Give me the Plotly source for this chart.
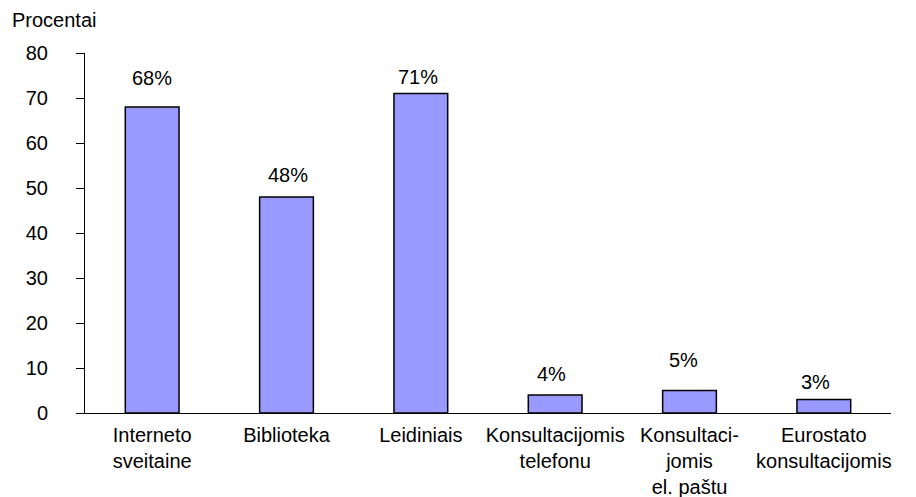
import plotly.graph_objects as go

categories = [
    "Interneto<br>sveitaine",
    "Biblioteka",
    "Leidiniais",
    "Konsultacijomis<br>telefonu",
    "Konsultaci-<br>jomis<br>el. paštu",
    "Eurostato<br>konsultacijomis",
]
values = [68, 48, 71, 4, 5, 3]
value_labels = ["68%", "48%", "71%", "4%", "5%", "3%"]
y_ticks = [0, 10, 20, 30, 40, 50, 60, 70, 80]

# label placement offsets (pixels), styling only
label_yshift = [29, 22, 17, 21, 31, 18]
label_xshift = [0, 1, -3, -4, -6, -8]

FONT = "Liberation Sans, Arial, sans-serif"

fig = go.Figure()
fig.add_trace(go.Bar(
    x=categories,
    y=values,
    width=0.4,
    marker=dict(color="#9999FF", line=dict(color="black", width=1.5)),
    hoverinfo="skip",
))

for c, v, t, ys, xs in zip(categories, values, value_labels, label_yshift, label_xshift):
    fig.add_annotation(
        x=c, y=v, text=t, showarrow=False,
        yanchor="middle", xanchor="center",
        yshift=ys, xshift=xs,
        font=dict(family=FONT, size=20, color="black"),
    )

fig.add_annotation(
    xref="paper", yref="paper", x=-75 / 806, y=1 + 33 / 360,
    xanchor="left", yanchor="middle", text="Procentai", showarrow=False,
    font=dict(family=FONT, size=20, color="black"),
)

fig.update_layout(
    width=908, height=489,
    margin=dict(l=77, r=25, t=45, b=84),
    paper_bgcolor="white", plot_bgcolor="white",
    showlegend=False,
    font=dict(family=FONT, size=20, color="black"),
    bargap=0.6,
)
fig.update_yaxes(
    range=[0, 80], tickvals=y_ticks,
    showline=True, linecolor="black", linewidth=1,
    ticks="outside", ticklen=8, tickcolor="black", tickwidth=1,
    showgrid=False, zeroline=False,
    ticklabelstandoff=24,
    automargin=False,
    tickfont=dict(family=FONT, size=20, color="black"),
)
fig.update_xaxes(
    showline=True, linecolor="black", linewidth=1,
    ticks="", showgrid=False,
    tickfont=dict(family=FONT, size=20, color="black"),
    ticklabelstandoff=4,
    tickangle=0,
    automargin=False,
)

fig.write_html("out.html")
